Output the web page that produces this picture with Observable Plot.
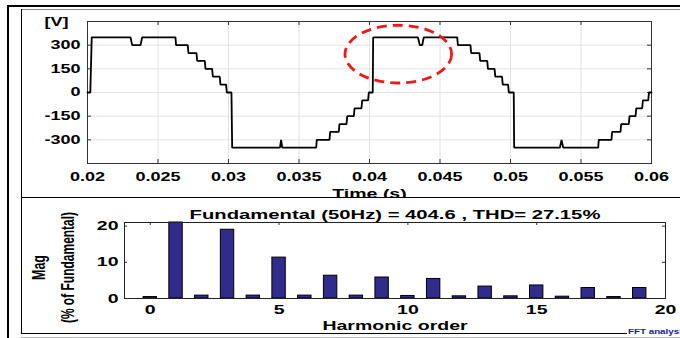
<!DOCTYPE html>
<html><head><meta charset="utf-8">
<script src="https://cdn.jsdelivr.net/npm/d3@7"></script>
<script src="https://cdn.jsdelivr.net/npm/@observablehq/plot@0.6"></script>
<style>
body{margin:0;background:#fff;}
#fig{position:relative;width:680px;height:338px;overflow:hidden;background:#fff;}
.ln{position:absolute;background:#000;}
#top{position:absolute;left:0;top:0;width:680px;height:197px;overflow:hidden;}
#bot{position:absolute;left:0;top:197px;width:680px;height:136px;overflow:hidden;}
#fft{position:absolute;left:628px;top:328px;font:bold 7px "Liberation Sans",Arial,sans-serif;color:#1a1aa8;white-space:nowrap;transform:scaleX(1.4);transform-origin:left center;}
</style></head><body>
<div id="fig">
  <div id="top"></div>
  <div id="bot"></div>
  <div class="ln" style="left:8px;top:5px;width:672px;height:2px"></div>
  <div class="ln" style="left:7px;top:5px;width:2px;height:333px"></div>
  <div class="ln" style="left:21px;top:9px;width:659px;height:1px;background:#888"></div>
  <div class="ln" style="left:21px;top:9px;width:1px;height:324px"></div>
  <div class="ln" style="left:21px;top:197px;width:659px;height:1px"></div>
  <div class="ln" style="left:21px;top:333px;width:606px;height:1px"></div>
  <div class="ln" style="left:21px;top:337px;width:659px;height:1px;background:#bbb"></div>
  <div id="fft">FFT analysis</div>
</div>
<script>
// ---- waveform (time in s, voltage in V) ----
const waveT = [0.0200,0.0202,0.0203,0.02305,0.02317,0.02376,0.02388,0.02624,0.02628,0.02711,0.02716,0.02773,0.02778,0.02832,0.02837,0.02884,0.02889,0.02938,0.02943,0.02983,0.02988,0.03021,0.03026,
  0.03365,0.03373,0.03381,0.03622,0.03626,0.03716,0.03721,0.03782,0.03787,0.03837,0.03842,0.03889,0.03894,0.03943,0.03948,0.03990,0.03995,0.04023,0.04026,
  0.04343,0.04357,0.04374,0.04385,0.04622,0.04627,0.04716,0.04721,0.04780,0.04785,0.04835,0.04840,0.04887,0.04892,0.04940,0.04945,0.04983,0.04988,0.05023,0.05026,
  0.05350,0.05362,0.05374,0.05622,0.05626,0.05716,0.05721,0.05780,0.05785,0.05839,0.05844,0.05887,0.05892,0.05934,0.05939,0.05977,0.05982,0.06000];
const waveV = [0,0,350,350,300,300,350,350,300,300,250,250,200,200,150,150,100,100,50,50,0,0,-350,
  -350,-300,-350,-350,-300,-300,-250,-250,-200,-200,-150,-150,-100,-100,-50,-50,0,0,350,
  350,300,300,350,350,300,300,250,250,200,200,150,150,100,100,50,50,0,0,-350,
  -350,-300,-350,-350,-300,-300,-250,-250,-200,-200,-150,-150,-100,-100,-50,-50,0,0];
const xTicks = [0.02,0.025,0.03,0.035,0.04,0.045,0.05,0.055,0.06];
const xTickLabels = ["0.02","0.025","0.03","0.035","0.04","0.045","0.05","0.055","0.06"];
const yTicks = [-300,-150,0,150,300];
const yTickLabels = ["-300","-150","0","150","300"];
const highlight = {t: 0.04208, v: 240, dt: 0.00378, dv: 183};

// ---- harmonic spectrum (% of fundamental) ----
const harmonics = [0,1,2,3,4,5,6,7,8,9,10,11,12,13,14,15,16,17,18,19];
const magnitudes = [0.4,100,0.8,19.0,0.8,11.3,0.8,6.3,0.8,5.8,0.7,5.4,0.6,3.3,0.6,3.6,0.5,2.9,0.4,2.9];
const hTicks = [0,5,10,15,20];
const magTicks = [0,10,20];
const spectrumTitle = "Fundamental (50Hz) = 404.6 , THD= 27.15%";

const FONT = "Liberation Sans, Arial, Helvetica, sans-serif";
const STRETCH = 1.5;
function stretch(svg, f) {
  svg.querySelectorAll("text").forEach(t => {
    const tr = t.getAttribute("transform") || "";
    if (/rotate/.test(tr)) { t.setAttribute("transform", tr + ` scale(1,${f})`); return; }
    const L = t.getComputedTextLength();
    if (L > 0) { t.setAttribute("textLength", L * f); t.setAttribute("lengthAdjust", "spacingAndGlyphs"); }
  });
}

// ---- top chart ----
const wave = waveT.map((t, i) => ({t, v: waveV[i]}));
const W = 680, H1 = 197, mL = 87, mR = 29, mT = 21, mB = 34;
const pw1 = W - mL - mR, ph1 = H1 - mT - mB;
const ax = "#333";
const topSvg = Plot.plot({
  width: W, height: H1, marginLeft: mL, marginRight: mR, marginTop: mT, marginBottom: mB,
  style: {fontFamily: FONT, color: "#000", background: "transparent"},
  x: {domain: [0.02, 0.06]},
  y: {domain: [-450, 450]},
  marks: [
    Plot.gridX(xTicks, {stroke: "#e2e2e2", strokeOpacity: 1}),
    Plot.gridY(yTicks, {stroke: "#e2e2e2", strokeOpacity: 1}),
    Plot.tickX(xTicks, {x: d => d, insetBottom: ph1 - 4, stroke: ax}),
    Plot.tickX(xTicks, {x: d => d, insetTop: ph1 - 4, stroke: ax}),
    Plot.tickY(yTicks, {y: d => d, insetRight: pw1 - 4, stroke: ax}),
    Plot.tickY(yTicks, {y: d => d, insetLeft: pw1 - 4, stroke: ax}),
    Plot.frame({stroke: ax}),
    Plot.line(wave, {x: "t", y: "v", stroke: "#000", strokeWidth: 1.8, strokeLinejoin: "miter"}),
    Plot.axisX(xTicks, {tickSize: 0, tickPadding: 9, tickFormat: d => xTickLabels[xTicks.indexOf(d)], fontSize: 12, fontWeight: "bold", label: null}),
    Plot.axisY(yTicks, {tickSize: 0, tickPadding: 7, tickFormat: d => yTickLabels[yTicks.indexOf(d)], fontSize: 12, fontWeight: "bold", label: null}),
    Plot.text(["[V]"], {text: d => d, frameAnchor: "top-left", dx: -31, dy: 1, textAnchor: "middle", lineAnchor: "middle", fontSize: 12, fontWeight: "bold"}),
    Plot.text(["Time (s)"], {text: d => d, frameAnchor: "bottom", dy: 25, lineAnchor: "top", fontSize: 13, fontWeight: "bold"})
  ]
});
document.getElementById("top").appendChild(topSvg);
stretch(topSvg, STRETCH);
{
  const xs = topSvg.scale("x"), ys = topSvg.scale("y");
  const cx = xs.apply(highlight.t), cy = ys.apply(highlight.v);
  d3.select(topSvg).append("ellipse")
    .attr("cx", cx).attr("cy", cy)
    .attr("rx", xs.apply(highlight.t + highlight.dt) - cx)
    .attr("ry", ys.apply(highlight.v - highlight.dv) - cy)
    .attr("fill", "none").attr("stroke", "#f01818").attr("stroke-width", 2.8)
    .attr("stroke-dasharray", "10 6");
}

// ---- bottom chart ----
const bars = harmonics.map((h, i) => ({h, m: magnitudes[i]}));
const H2 = 136, bL = 124, bR = 15, bT = 25, bB = 35;
const pw2 = W - bL - bR, ph2 = H2 - bT - bB;
const botSvg = Plot.plot({
  width: W, height: H2, marginLeft: bL, marginRight: bR, marginTop: bT, marginBottom: bB,
  style: {fontFamily: FONT, color: "#000", background: "transparent"},
  x: {domain: [-1, 20]},
  y: {domain: [0, 21], clamp: true},
  marks: [
    Plot.rectY(bars, {x1: d => d.h - 0.26, x2: d => d.h + 0.26, y: "m", fill: "#302c8c", stroke: "#000", strokeWidth: 1}),
    Plot.tickX(hTicks, {x: d => d, insetBottom: ph2 - 3, stroke: ax}),
    Plot.tickY(magTicks, {y: d => d, insetLeft: pw2 - 3, stroke: ax}),
    Plot.tickY(magTicks, {y: d => d, insetRight: pw2 - 3, stroke: ax}),
    Plot.frame({stroke: "#222"}),
    Plot.axisX(hTicks, {tickSize: 0, tickPadding: 6, fontSize: 13, fontWeight: "bold", label: null}),
    Plot.axisY(magTicks, {tickSize: 0, tickPadding: 6, fontSize: 13, fontWeight: "bold", label: null}),
    Plot.text([spectrumTitle], {text: d => d, frameAnchor: "top", dy: -13, lineAnchor: "top", fontSize: 13.5, fontWeight: "bold"}),
    Plot.text(["Harmonic order"], {text: d => d, frameAnchor: "bottom", dy: 22, lineAnchor: "top", fontSize: 13, fontWeight: "bold"}),
    Plot.text(["Mag"], {text: d => d, frameAnchor: "left", dx: -86, dy: 7, rotate: -90, textAnchor: "middle", lineAnchor: "middle", fontSize: 12.5, fontWeight: "bold"}),
    Plot.text(["(% of Fundamental)"], {text: d => d, frameAnchor: "left", dx: -56, dy: 7, rotate: -90, textAnchor: "middle", lineAnchor: "middle", fontSize: 12, fontWeight: "bold"})
  ]
});
document.getElementById("bot").appendChild(botSvg);
stretch(botSvg, STRETCH);
</script>
</body></html>
